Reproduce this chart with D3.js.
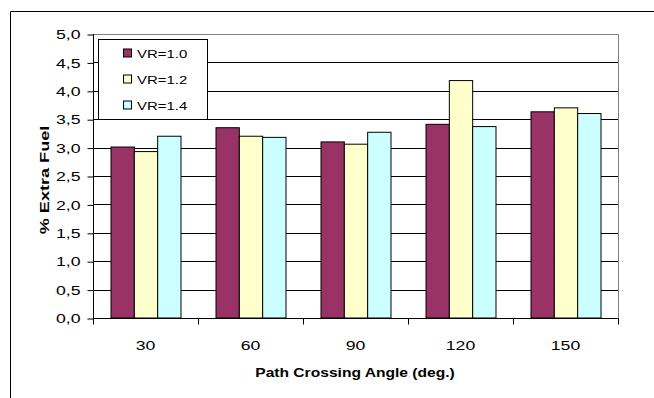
<!DOCTYPE html>
<html>
<head>
<meta charset="utf-8">
<script src="https://cdn.jsdelivr.net/npm/d3@7"></script>
<style>
  body { margin: 0; background: #fff; }
  svg { font-family: "Liberation Sans", Arial, sans-serif; }
</style>
</head>
<body>
<div id="container"></div>
<script>
const width = 654;
const height = 398;
const margin = {top: 34, right: 36, bottom: 80, left: 93};

const angles = ["30", "60", "90", "120", "150"];
const seriesNames = ["VR=1.0", "VR=1.2", "VR=1.4"];
const vr10 = [3.01, 3.35, 3.10, 3.41, 3.63];
const vr12 = [2.93, 3.20, 3.06, 4.18, 3.70];
const vr14 = [3.20, 3.18, 3.27, 3.37, 3.60];
const yTicks = [0, 0.5, 1, 1.5, 2, 2.5, 3, 3.5, 4, 4.5, 5];
const colors = ["#993366", "#ffffcc", "#ccffff"];

const series = [vr10, vr12, vr14];

// the original text is drawn wider than Liberation Sans, so stretch it along its baseline
const stretch = 1.36;

const viz = d3.select("#container").append("svg").attr("width", width).attr("height", height);

// outer chart frame (only top & left visible)
viz.append("path").attr("d", `M10.5,${height} V11.5 H${width}`)
  .attr("fill", "none").attr("stroke", "#000").attr("stroke-width", 1);

const x0 = d3.scaleBand().domain(angles).range([margin.left, width - margin.right]).paddingInner(0).paddingOuter(0);
const x1 = d3.scaleBand().domain(seriesNames).range([0, x0.bandwidth()]).paddingOuter(0.75).paddingInner(0);
const yScale = d3.scaleLinear().domain([0, 5]).range([height - margin.bottom, margin.top]);

const plotR = width - margin.right;
const plotB = height - margin.bottom;

// gridlines
viz.append("g").selectAll("line").data(yTicks.filter(t => t > 0 && t < 5)).enter().append("line")
  .attr("x1", margin.left).attr("x2", plotR)
  .attr("y1", d => Math.round(yScale(d)) + 0.5).attr("y2", d => Math.round(yScale(d)) + 0.5)
  .attr("stroke", "#000");

// plot area border
viz.append("path").attr("d", `M${margin.left + 0.5},${margin.top + 0.5} H${plotR + 0.5} V${plotB + 0.5}`)
  .attr("fill", "none").attr("stroke", "#808080");

// bars
const groups = viz.append("g").selectAll("g").data(angles).enter().append("g")
  .attr("transform", d => `translate(${x0(d)},0)`);
groups.selectAll("rect").data((d, i) => series.map((s, j) => ({name: seriesNames[j], value: s[i], k: j})))
  .enter().append("rect")
  .attr("x", d => x1(d.name) + 0.5)
  .attr("y", d => yScale(d.value))
  .attr("width", x1.bandwidth())
  .attr("height", d => plotB - yScale(d.value))
  .attr("fill", d => colors[d.k])
  .attr("stroke", "#000").attr("stroke-width", 1);

// y axis
const yAxis = d3.axisLeft(yScale).tickValues(yTicks).tickSize(6).tickPadding(7)
  .tickFormat(d => d3.format(".1f")(d).replace(".", ","));
const yAxisGroup = viz.append("g").attr("transform", `translate(${margin.left + 0.5},0)`).call(yAxis);
yAxisGroup.select(".domain").attr("d", `M0,${margin.top} V${plotB}`);
yAxisGroup.selectAll(".tick line").attr("transform", "translate(0,0.5)");
yAxisGroup.selectAll("text")
  .attr("x", null).attr("dy", "0.36em")
  .attr("transform", `translate(-13,0) scale(${stretch},1)`)
  .attr("font-size", 13).attr("font-family", "Liberation Sans, Arial, sans-serif").attr("fill", "#000");

// x axis
const xTickPositions = angles.map(a => x0(a)).concat([plotR]);
const xAxisGroup = viz.append("g").attr("transform", `translate(0,${plotB + 0.5})`);
xAxisGroup.append("line").attr("x1", margin.left).attr("x2", plotR + 1).attr("stroke", "#000");
xAxisGroup.selectAll(".xt").data(xTickPositions).enter().append("line").attr("class", "xt")
  .attr("x1", d => Math.round(d) + 0.5).attr("x2", d => Math.round(d) + 0.5)
  .attr("y1", 0).attr("y2", 6).attr("stroke", "#000");
xAxisGroup.selectAll(".xl").data(angles).enter().append("text").attr("class", "xl")
  .attr("transform", d => `translate(${x0(d) + x0.bandwidth() / 2},31.5) scale(${stretch},1)`)
  .attr("text-anchor", "middle").attr("font-size", 13).text(d => d);

// axis titles
viz.append("text").attr("transform", `translate(355,377) scale(1.3,1)`).attr("text-anchor", "middle")
  .attr("font-size", 12).attr("font-weight", "bold").text("Path Crossing Angle (deg.)");
viz.append("text").attr("transform", `translate(48.5,180) rotate(-90) scale(1.45,1)`)
  .attr("text-anchor", "middle").attr("font-size", 12.5).attr("font-weight", "bold").text("% Extra Fuel");

// legend
const legend = viz.append("g").attr("transform", "translate(98.5,39.5)");
legend.append("rect").attr("width", 109).attr("height", 80).attr("fill", "#fff").attr("stroke", "#000");
const items = legend.selectAll(".item").data(seriesNames).enter().append("g").attr("class", "item")
  .attr("transform", (d, i) => `translate(25,${13.5 + i * 26})`);
items.append("rect").attr("x", 0).attr("y", -4).attr("width", 8).attr("height", 8)
  .attr("fill", (d, i) => colors[i]).attr("stroke", "#000");
items.append("text").attr("transform", `translate(13.5,4.5) scale(1.3,1)`).attr("font-size", 11.5).text(d => d);
</script>
</body>
</html>
